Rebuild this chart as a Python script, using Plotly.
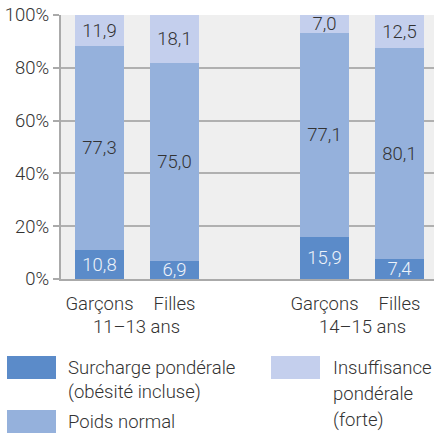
import plotly.graph_objects as go

x_pos = [0, 1, 3, 4]
tick_labels = ["Garçons", "Filles", "Garçons", "Filles"]
groups = ["11–13 ans", "14–15 ans"]
group_pos = [0.5, 3.5]
surcharge = [10.8, 6.9, 15.9, 7.4]
normal = [77.3, 75.0, 77.1, 80.1]
insuff = [11.9, 18.1, 7.0, 12.5]
y_ticks = [0, 20, 40, 60, 80, 100]
y_tick_labels = ["0%", "20%", "40%", "60%", "80%", "100%"]
series_names = ["Surcharge pondérale", "Poids normal", "Insuffisance pondérale (forte)"]
legend_lines = [["Surcharge pondérale", "(obésité incluse)"], ["Poids normal"],
                ["Insuffisance", "pondérale", "(forte)"]]
colors = ["#5b8bc9", "#95b1dc", "#c4cfed"]
text_colors = ["#eef3fa", "#333333", "#333333"]

FONT = "Roboto"
FS = 18.5
W = 300
fig = go.Figure()
for vals, name, c, tc in zip([surcharge, normal, insuff], series_names, colors, text_colors):
    fig.add_trace(go.Bar(
        x=x_pos, y=vals, name=name, marker=dict(color=c, line=dict(width=0)),
        width=0.65,
        text=[f"{v:.1f}".replace(".", ",") for v in vals],
        textposition="inside", insidetextanchor="middle", textangle=0,
        constraintext="none",
        textfont=dict(family=FONT, size=FS, color=tc, weight=W),
        showlegend=False, hoverinfo="skip",
    ))

fig.update_layout(
    barmode="stack",
    width=434, height=433,
    margin=dict(l=61, r=0, t=15, b=154),
    plot_bgcolor="#efefef", paper_bgcolor="white",
    font=dict(family=FONT, size=FS, color="#333333", weight=W),
)
fig.update_yaxes(
    range=[0, 100], tickmode="array", tickvals=y_ticks, ticktext=y_tick_labels,
    showgrid=True, gridcolor="#b0b0b0", gridwidth=1.5,
    showline=True, linecolor="#aaaaaa", linewidth=2,
    ticks="outside", ticklen=6, tickcolor="#aaaaaa", tickwidth=2,
    tickfont=dict(family=FONT, size=FS, color="#333333", weight=W),
    zeroline=False,
)
fig.update_xaxes(
    range=[-0.513, 4.46], tickmode="array", tickvals=x_pos, ticktext=tick_labels,
    showline=True, linecolor="#aaaaaa", linewidth=2, showgrid=False,
    ticks="", ticklabelstandoff=7,
    tickfont=dict(family=FONT, size=FS, color="#333333", weight=W),
    zeroline=False,
)

for g, gp in zip(groups, group_pos):
    fig.add_annotation(x=gp, y=0, xref="x", yref="paper", yshift=-48, yanchor="middle",
                       text=g, showarrow=False,
                       font=dict(family=FONT, size=FS, color="#333333", weight=W))

# manual legend (pixel layout converted to paper coordinates)
def px_x(p):
    return (p - 61) / 373
def px_y(p):
    return (279 - p) / 264

legend_boxes = [(7, 356), (7, 410), (271, 356)]
legend_text_x = [66, 66, 331]
legend_line_y = [[368, 392], [422], [368, 394, 420]]
for (sx, sy0), tx, lys, lines, c in zip(legend_boxes, legend_text_x, legend_line_y, legend_lines, colors):
    fig.add_shape(type="rect", xref="paper", yref="paper",
                  x0=px_x(sx), x1=px_x(sx + 49), y0=px_y(sy0 + 23), y1=px_y(sy0),
                  fillcolor=c, line=dict(width=0))
    for ly, line in zip(lys, lines):
        fig.add_annotation(xref="paper", yref="paper", x=px_x(tx), y=px_y(ly),
                           xanchor="left", yanchor="middle", align="left", showarrow=False,
                           text=line, font=dict(family=FONT, size=FS, color="#333333", weight=W))

fig.write_html("out.html", config={"displayModeBar": False},
               post_script="document.body.style.margin='0px';")
